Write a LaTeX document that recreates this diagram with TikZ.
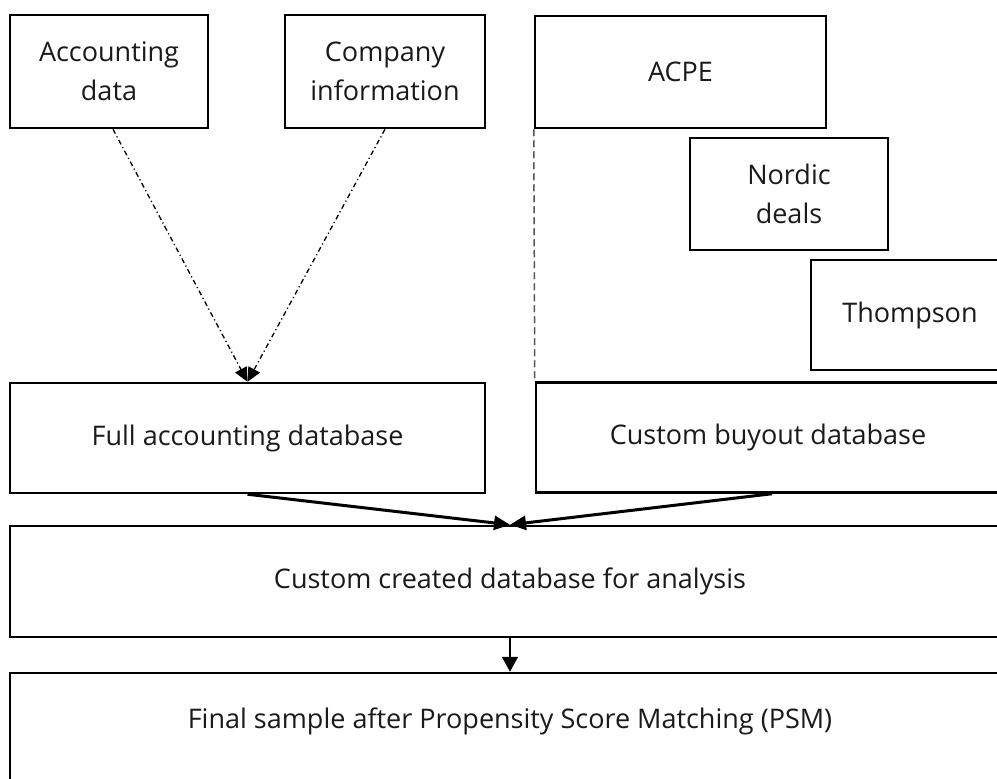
\documentclass[tikz,border=0pt]{standalone}
\usepackage{fontspec}
\setmainfont{Open Sans}
\usetikzlibrary{arrows.meta}
\definecolor{txt}{HTML}{1A1A1A}
\definecolor{dashgray}{HTML}{555555}
\begin{document}
\begin{tikzpicture}[x=1pt,y=-1pt,
  box/.style={draw=black,line width=2.5pt,inner sep=0pt,align=center,text=txt,
    font=\fontsize{27}{39}\selectfont},
  dotarrow/.style={line width=1.3pt,dash pattern=on 5pt off 3pt on 1.2pt off 3pt,
    -{Triangle[length=14pt,width=13pt]}},
  thickarrow/.style={line width=3pt,-{Triangle[length=16pt,width=14pt]}},
  thinarrow/.style={line width=1.5pt,-{Triangle[length=15pt,width=16pt]}},
  dashline/.style={draw=dashgray,line width=1.5pt,dash pattern=on 7pt off 4pt}]
\useasboundingbox (0,0) rectangle (997,779);
\clip (0,0) rectangle (997,779);
\fill[white] (0,0) rectangle (997,779);
\node[box,minimum width=198pt,minimum height=113pt] (acc) at (109,71.5) {Accounting\\data};
\node[box,minimum width=200pt,minimum height=113pt] (comp) at (385,71.5) {Company\\information};
\node[box,minimum width=291pt,minimum height=112pt] (acpe) at (680.5,72) {ACPE};
\node[box,minimum width=198pt,minimum height=112pt] (nordic) at (789,194) {Nordic\\deals};
\node[box,minimum width=198pt,minimum height=110pt] (thomp) at (910,315) {Thompson};
\node[box,minimum width=475pt,minimum height=110pt] (full) at (247.5,438) {Full accounting database};
\node[box,minimum width=464pt,minimum height=110pt] (buyout) at (768,437.5) {Custom buyout database};
\node[box,minimum width=1000pt,minimum height=111pt] (created) at (510,581.5) {Custom created database for analysis};
\node[box,minimum width=1000pt,minimum height=111pt,text depth=21pt] (final) at (510,728.5) {Final sample after Propensity Score Matching (PSM)};
\draw[dotarrow] ([xshift=4pt]acc.south) -- (full.north);
\draw[dotarrow] (comp.south) -- (full.north);
\draw[dashline] (acpe.south west) -- (buyout.north west);
\draw[thickarrow] (full.south) -- (created.north);
\draw[thickarrow] ([xshift=4pt]buyout.south) -- (created.north);
\draw[thinarrow] (created.south) -- (final.north);
\end{tikzpicture}
\end{document}
